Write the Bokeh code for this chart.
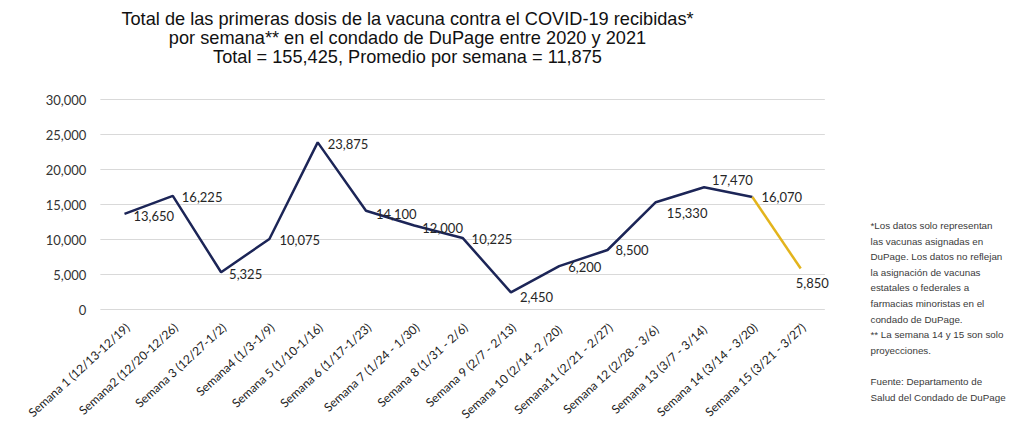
import numpy as np
from bokeh.plotting import figure
from bokeh.models import ColumnDataSource, LabelSet, Label, Range1d
from bokeh.core.properties import value
from bokeh.embed import file_html
from bokeh.resources import INLINE

weeks = ["Semana 1 (12/13-12/19)", "Semana2 (12/20-12/26)", "Semana 3 (12/27-1/2)",
         "Semana4 (1/3-1/9)", "Semana 5 (1/10-1/16)", "Semana 6 (1/17-1/23)",
         "Semana 7 (1/24 - 1/30)", "Semana 8 (1/31 - 2/6)", "Semana 9 (2/7 - 2/13)",
         "Semana  10 (2/14 -2 /20)", "Semana11 (2/21 - 2/27)", "Semana  12 (2/28 - 3/6)",
         "Semana  13 (3/7 - 3/14)", "Semana 14 (3/14 - 3/20)", "Semana 15 (3/21 - 3/27)"]
doses = [13650, 16225, 5325, 10075, 23875, 14100, 12000, 10225, 2450, 6200, 8500,
         15330, 17470, 16070, 5850]
y_ticks = [0, 5000, 10000, 15000, 20000, 25000, 30000]

title_lines = ["Total de las primeras dosis de la vacuna contra el COVID-19 recibidas*",
               "por semana** en el condado de DuPage entre 2020 y 2021",
               "Total = 155,425, Promedio por semana = 11,875"]
note_lines = ["*Los datos solo representan", "las vacunas asignadas en",
              "DuPage. Los datos no reflejan", "la asignación de vacunas",
              "estatales o federales a", "farmacias minoristas en el",
              "condado de DuPage.", "** La semana 14 y 15 son solo", "proyecciones.",
              "", "Fuente: Departamento de", "Salud del Condado de DuPage"]

# label offsets (style only, pixels)
dx = [9, 9, 8, 10, 10, 10, 8, 9, 9, 9, 8, 11, 8, 9, -5]
dy = [-2, -1, -2, -1, -2, -3, -2, -1, -5, -1, 0, -11, 7, 0, -14]

NAVY = "#1c2557"
GOLD = "#e3b41c"
W, H = 1010, 421
STEP = 48.3          # px per week
X0 = 124             # px of first week
Y0 = 309             # px of value 0
PPU = 210 / 30000    # px per unit

idx = np.arange(len(weeks))
p = figure(width=W, height=H, frame_width=W, frame_height=H,
           x_range=Range1d(-X0 / STEP, (W - X0) / STEP),
           y_range=Range1d(-(H - Y0) / PPU, Y0 / PPU),
           min_border=0, output_backend="svg", toolbar_location=None)
p.outline_line_color = None
p.xaxis.visible = False
p.yaxis.visible = False
p.xgrid.visible = False
p.ygrid.visible = False

n = len(weeks)
p.segment(x0=[-0.5] * len(y_ticks), x1=[n - 0.5] * len(y_ticks), y0=y_ticks, y1=y_ticks,
          line_color="#d9d9d9", line_width=1)

p.text(x=[-0.5] * len(y_ticks), y=y_ticks, text=[f"{v:,}" for v in y_ticks],
       x_offset=-14, text_align="right", text_baseline="middle",
       text_font=value("Lato"), text_font_size="13px", text_color="#333333")

p.text(x=idx, y=[0] * n, text=weeks, angle=0.74, x_offset=3, y_offset=16,
       text_align="right", text_baseline="middle",
       text_font=value("Lato"), text_font_size="12px", text_color="#222222")

p.line(x=idx[:14], y=doses[:14], line_color=NAVY, line_width=2.5)
p.line(x=idx[13:], y=doses[13:], line_color=GOLD, line_width=2.5)

src = ColumnDataSource(dict(x=idx, y=doses, t=[f"{v:,}" for v in doses], dx=dx, dy=dy))
p.add_layout(LabelSet(x="x", y="y", text="t", source=src, x_offset="dx", y_offset="dy",
                      text_font=value("Lato"), text_font_size="13px", text_color="#262626",
                      text_baseline="middle", text_align="left"))

for i, t in enumerate(title_lines):
    p.add_layout(Label(x=407, y=H - 18 - 19 * i, x_units="screen", y_units="screen",
                       text=t, text_align="center", text_baseline="middle",
                       text_font="Liberation Sans", text_font_size="18.2px",
                       text_color="#111111"))

for i, t in enumerate(note_lines):
    if t:
        p.add_layout(Label(x=870, y=H - 225 - 15.6 * i, x_units="screen", y_units="screen",
                           text=t, text_align="left", text_baseline="middle",
                           text_font="Liberation Sans", text_font_size="9.8px",
                           text_color="#3a3a3a"))

open("out.html", "w").write(file_html(p, INLINE))
